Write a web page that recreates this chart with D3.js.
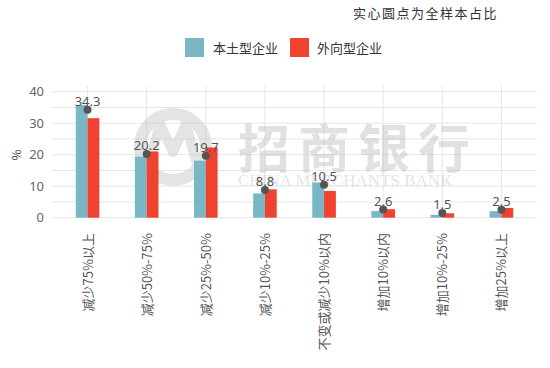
<!DOCTYPE html>
<html>
<head>
<meta charset="utf-8">
<script src="https://cdn.jsdelivr.net/npm/d3@7"></script>
<style>
  body { margin: 0; background: #fff; }
  text { font-family: "Noto Sans CJK SC", "Noto Sans", sans-serif; }
</style>
</head>
<body>
<div id="chart"></div>
<script>
// data
var categories = ["减少75%以上", "减少50%-75%", "减少25%-50%", "减少10%-25%",
                  "不变或减少10%以内", "增加10%以内", "增加10%-25%", "增加25%以上"];
var domestic = [35.8, 19.4, 18.1, 7.7, 11.2, 2.1, 0.9, 2.1];   // 本土型企业
var foreign  = [31.6, 21.0, 22.3, 9.0, 8.5, 2.7, 1.4, 3.1];    // 外向型企业
var overall  = [34.3, 20.2, 19.7, 8.8, 10.5, 2.6, 1.5, 2.5];   // 全样本
var seriesNames = ["本土型企业", "外向型企业"];
var yTicks = [0, 10, 20, 30, 40];

var colors = ["#79b7c7", "#f1412f"];

var W = 550, H = 368;
var svg = d3.select("#chart").append("svg")
    .attr("width", W).attr("height", H);

var x = d3.scaleBand().domain(categories).range([58, 531]);
var y = d3.scaleLinear().domain([0, 40]).range([217.7, 91.7]);

// note at top right
svg.append("text")
    .attr("x", 498).attr("y", 18)
    .attr("text-anchor", "end")
    .style("font-size", "13px").style("fill", "#333")
    .style("letter-spacing", "1.5px")
    .text("实心圆点为全样本占比");

// legend
var legend = svg.append("g");
[[185, 213], [290, 317]].forEach(function(p, i) {
  legend.append("rect").attr("x", p[0]).attr("y", 38).attr("width", 19).attr("height", 19)
      .attr("fill", colors[i]);
  legend.append("text").attr("x", p[1]).attr("y", 53)
      .style("font-size", "13px").style("fill", "#333")
      .text(seriesNames[i]);
});

// grid
var grid = svg.append("g");
d3.range(0, 41, 5).forEach(function(v) {
  grid.append("line").attr("x1", 52).attr("x2", 537)
      .attr("y1", y(v)).attr("y2", y(v))
      .attr("stroke", "#e6e6e6").attr("stroke-width", 1);
});
categories.forEach(function(c) {
  var cx = x(c) + x.bandwidth() / 2;
  grid.append("line").attr("x1", cx).attr("x2", cx)
      .attr("y1", 86).attr("y2", 218)
      .attr("stroke", "#e6e6e6").attr("stroke-width", 1);
});

// watermark
var wm = svg.append("g").attr("opacity", 0.45);
wm.append("circle").attr("cx", 173).attr("cy", 147).attr("r", 33)
    .attr("fill", "none").attr("stroke", "#c4c4c4").attr("stroke-width", 12);
wm.append("path")
    .attr("d", "M148,168 L160,124 L173,152 L186,124 L198,168")
    .attr("fill", "none").attr("stroke", "#c4c4c4").attr("stroke-width", 10)
    .attr("stroke-linejoin", "round");
wm.append("text").attr("x", 238).attr("y", 168)
    .style("font-size", "52px").style("font-weight", "bold").style("fill", "#bdbdbd")
    .style("letter-spacing", "8px")
    .text("招商银行");
wm.append("text").attr("x", 238).attr("y", 186)
    .style("font-family", "Liberation Serif, serif")
    .style("font-size", "17px").style("fill", "#c4c4c4")
    .text("CHINA MERCHANTS BANK");

// y axis
var yAxis = svg.append("g").attr("transform", "translate(44,0)")
    .call(d3.axisLeft(y).tickValues(yTicks).tickSize(0).tickPadding(0));
yAxis.select(".domain").remove();
yAxis.selectAll("text").style("font-size", "13px").style("fill", "#666")
    .style("font-family", "Noto Sans, sans-serif");

svg.append("text")
    .attr("transform", "translate(12,155) rotate(90)")
    .attr("text-anchor", "middle")
    .style("font-size", "12px").style("fill", "#444")
    .text("%");

// bars
var bw = 11.8;
var groups = svg.selectAll(".grp").data(categories).enter().append("g")
    .attr("transform", function(d) { return "translate(" + (x(d) + x.bandwidth() / 2) + ",0)"; });
groups.append("rect")
    .attr("x", -bw).attr("width", bw)
    .attr("y", function(d, i) { return y(domestic[i]); })
    .attr("height", function(d, i) { return y(0) - y(domestic[i]); })
    .attr("fill", colors[0]);
groups.append("rect")
    .attr("x", 0).attr("width", bw)
    .attr("y", function(d, i) { return y(foreign[i]); })
    .attr("height", function(d, i) { return y(0) - y(foreign[i]); })
    .attr("fill", colors[1]);

// dots + labels
groups.append("circle")
    .attr("cx", 0).attr("cy", function(d, i) { return y(overall[i]); })
    .attr("r", 4).attr("fill", "#555");
groups.append("text")
    .attr("x", 0).attr("y", function(d, i) { return y(overall[i]) - 4; })
    .attr("text-anchor", "middle")
    .style("font-size", "13px").style("fill", "#555")
    .style("font-family", "Noto Sans, sans-serif")
    .text(function(d, i) { return overall[i].toFixed(1); });

// x labels
groups.append("text")
    .attr("transform", "translate(5,233) rotate(-90)")
    .attr("text-anchor", "end")
    .style("font-size", "13px").style("fill", "#555")
    .text(function(d) { return d; });
</script>
</body>
</html>
